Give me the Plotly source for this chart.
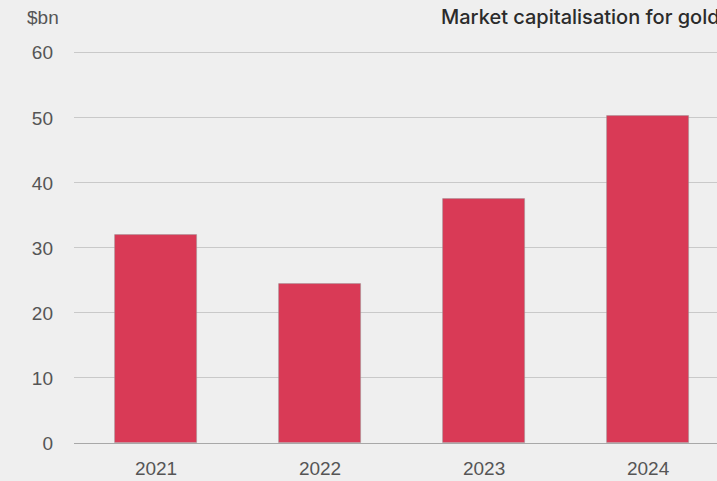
import plotly.graph_objects as go

years = ["2021", "2022", "2023", "2024"]
market_cap_bn = [32.0, 24.4, 37.5, 50.3]
y_ticks = [0, 10, 20, 30, 40, 50, 60]

BG = "#efefef"
BAR = "#d93a56"
FONT = "Liberation Sans, Arial, sans-serif"

fig = go.Figure(
    go.Bar(
        x=list(range(len(years))),
        y=market_cap_bn,
        width=0.5,
        marker=dict(color=BAR, line=dict(color="rgba(150,150,150,0.6)", width=0.8)),
        hoverinfo="skip",
    )
)

# a little headroom above 60 so its gridline is drawn inside the plot area
fig.update_layout(
    width=717,
    height=481,
    margin=dict(l=74, r=0, t=46, b=38),
    paper_bgcolor=BG,
    plot_bgcolor=BG,
    showlegend=False,
    font=dict(family=FONT, color="#555555", size=19),
    bargap=0,
)

fig.update_xaxes(
    range=[-0.5, 3.42],
    tickmode="array",
    tickvals=list(range(len(years))),
    ticktext=years,
    showgrid=False,
    zeroline=False,
    showline=False,
    ticks="",
    ticklabelstandoff=12,
    tickfont=dict(size=19, color="#555555"),
    fixedrange=True,
)

fig.update_yaxes(
    range=[0, 61.05],
    tickmode="array",
    tickvals=y_ticks,
    showgrid=True,
    gridcolor="#c9c9c9",
    gridwidth=1,
    zeroline=True,
    zerolinecolor="#a8a8a8",
    zerolinewidth=1,
    showline=False,
    ticks="",
    ticklabelstandoff=20,
    tickfont=dict(size=19, color="#555555"),
    fixedrange=True,
)

fig.add_annotation(
    text="$bn", xref="paper", yref="paper", x=-49 / 643, y=1,
    yshift=29, xanchor="left", yanchor="middle", showarrow=False,
    font=dict(size=19, color="#555555", family=FONT),
)

fig.add_annotation(
    text="Market capitalisation for gold ETFs", xref="paper", yref="paper",
    x=(439 - 74) / 643, y=1, yshift=29, xanchor="left", yanchor="middle",
    showarrow=False,
    font=dict(size=20, color="#2b2b2b", family="Inter, Liberation Sans, sans-serif", weight=500),
)

fig.write_html("out.html")
